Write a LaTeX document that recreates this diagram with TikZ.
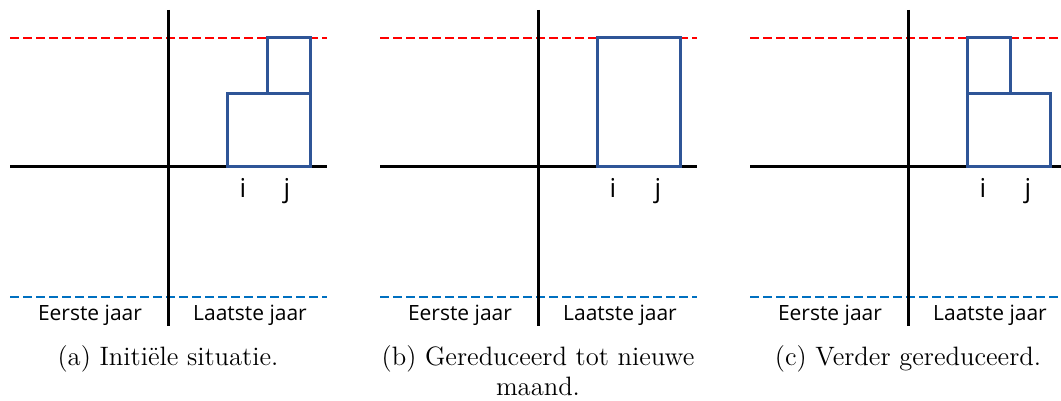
\documentclass[tikz,border=0pt]{standalone}
\usepackage{fontspec}
\newfontfamily\lblfont{Open Sans}
\definecolor{boxblue}{RGB}{47,85,151}
\definecolor{limred}{RGB}{255,0,0}
\definecolor{limblue}{RGB}{0,112,192}
\begin{document}
\begin{tikzpicture}[x=0.5pt,y=-0.5pt,
  axis/.style={line width=1.5pt,black},
  upperlim/.style={line width=1.3pt,limred,dash pattern=on 4.5pt off 2pt},
  lowerlim/.style={line width=1.3pt,limblue,dash pattern=on 4.5pt off 2pt},
  blk/.style={line width=1.5pt,boxblue},
  yearlbl/.style={font=\lblfont\fontsize{10.5}{12}\selectfont,anchor=base,inner sep=0pt},
  idxlbl/.style={font=\lblfont\fontsize{13}{15}\selectfont,anchor=base,inner sep=0pt},
  subcaption/.style={font=\fontsize{13.3}{15}\selectfont,anchor=base,inner sep=0pt,align=center}]
\useasboundingbox (0,0) rectangle (1061,401);
% panel a
\begin{scope}
  \coordinate (aL) at (10,167); \coordinate (aR) at (327,167);
  \coordinate (aT) at (168,10); \coordinate (aB) at (168,326);
  \draw[upperlim] (10,38) -- (327,38);
  \draw[lowerlim] (10,297) -- (327,297);
  \draw[axis] (aL) -- (aR);
  \draw[axis] (aT) -- (aB);
  \draw[blk] (227,94) rectangle (310,167);
  \draw[blk] (267,38) rectangle (310,94);
  \node[idxlbl] (ai) at (243,198) {i};
  \node[idxlbl] (aj) at (287,198) {j};
  \node[yearlbl] (ae) at (90,320) {Eerste jaar};
  \node[yearlbl] (al) at (250,320) {Laatste jaar};
  \node[subcaption] (acap) at (168,365) {(a) Initiële situatie.};
\end{scope}
% panel b
\begin{scope}[xshift=185pt]
  \coordinate (bL) at (10,167); \coordinate (bR) at (327,167);
  \coordinate (bT) at (168,10); \coordinate (bB) at (168,326);
  \draw[upperlim] (10,38) -- (327,38);
  \draw[lowerlim] (10,297) -- (327,297);
  \draw[axis] (bL) -- (bR);
  \draw[axis] (bT) -- (bB);
  \draw[blk] (227,38) rectangle (310,167);
  \node[idxlbl] (bi) at (243,198) {i};
  \node[idxlbl] (bj) at (288,198) {j};
  \node[yearlbl] (be) at (90,320) {Eerste jaar};
  \node[yearlbl] (bl) at (250,320) {Laatste jaar};
  \node[subcaption] (bcap) at (168,395) {(b) Gereduceerd tot nieuwe\\maand.};
\end{scope}
% panel c
\begin{scope}[xshift=370pt]
  \coordinate (cL) at (10,167); \coordinate (cR) at (327,167);
  \coordinate (cT) at (168,10); \coordinate (cB) at (168,326);
  \draw[upperlim] (10,38) -- (327,38);
  \draw[lowerlim] (10,297) -- (327,297);
  \draw[axis] (cL) -- (cR);
  \draw[axis] (cT) -- (cB);
  \draw[blk] (227,94) rectangle (310,167);
  \draw[blk] (227,38) rectangle (270,94);
  \node[idxlbl] (ci) at (243,198) {i};
  \node[idxlbl] (cj) at (288,198) {j};
  \node[yearlbl] (ce) at (90,320) {Eerste jaar};
  \node[yearlbl] (cl) at (250,320) {Laatste jaar};
  \node[subcaption] (ccap) at (168,365) {(c) Verder gereduceerd.};
\end{scope}
\end{tikzpicture}
\end{document}
